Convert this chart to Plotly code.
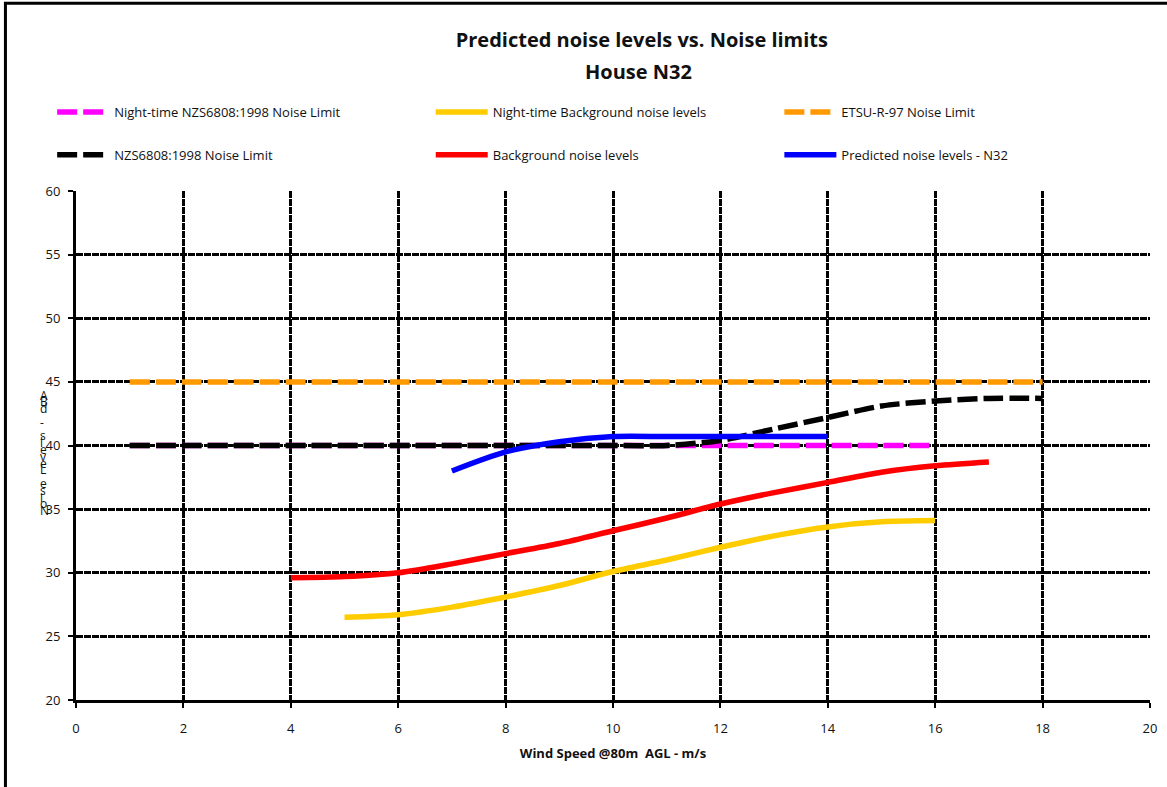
import plotly.graph_objects as go

# Wind speed (m/s) for each series
night_limit_x = [1, 2, 3, 4, 5, 6, 7, 8, 9, 10, 11, 12, 13, 14, 15, 16]
night_limit_y = [40, 40, 40, 40, 40, 40, 40, 40, 40, 40, 40, 40, 40, 40, 40, 40]

night_bg_x = [5, 6, 7, 8, 9, 10, 11, 12, 13, 14, 15, 16]
night_bg_y = [26.5, 26.7, 27.3, 28.1, 29.0, 30.1, 31.0, 32.0, 32.9, 33.6, 34.0, 34.1]

etsu_x = [1, 2, 3, 4, 5, 6, 7, 8, 9, 10, 11, 12, 13, 14, 15, 16, 17, 18]
etsu_y = [45, 45, 45, 45, 45, 45, 45, 45, 45, 45, 45, 45, 45, 45, 45, 45, 45, 45]

nzs_x = [1, 2, 3, 4, 5, 6, 7, 8, 9, 10, 11, 12, 13, 14, 15, 16, 17, 18]
nzs_y = [40, 40, 40, 40, 40, 40, 40, 40, 40, 40, 40, 40.4, 41.3, 42.2, 43.1, 43.5, 43.7, 43.7]

bg_x = [4, 5, 6, 7, 8, 9, 10, 11, 12, 13, 14, 15, 16, 17]
bg_y = [29.6, 29.7, 30.0, 30.7, 31.5, 32.3, 33.3, 34.3, 35.4, 36.3, 37.1, 37.9, 38.4, 38.7]

pred_x = [7, 8, 9, 10, 11, 12, 13, 14]
pred_y = [38.0, 39.5, 40.3, 40.7, 40.7, 40.7, 40.7, 40.7]

x_ticks = [0, 2, 4, 6, 8, 10, 12, 14, 16, 18, 20]
y_ticks = [20, 25, 30, 35, 40, 45, 50, 55, 60]

FONT = "Open Sans"
DASH = "20px,6px"

fig = go.Figure()

# drawing order (bottom to top), legend slot given separately
series = [
    (night_bg_x, night_bg_y, "Night-time Background noise levels", "#FFCC00", "solid", "legend2"),
    (bg_x, bg_y, "Background noise levels", "#FF0000", "solid", "legend5"),
    (etsu_x, etsu_y, "ETSU-R-97 Noise Limit", "#FF9900", DASH, "legend3"),
    (night_limit_x, night_limit_y, "Night-time NZS6808:1998 Noise Limit", "#FF00FF", DASH, "legend"),
    (nzs_x, nzs_y, "NZS6808:1998 Noise Limit", "#000000", DASH, "legend4"),
    (pred_x, pred_y, "Predicted noise levels - N32", "#0000FF", "solid", "legend6"),
]

for xs, ys, name, colour, dash, leg in series:
    fig.add_trace(go.Scatter(
        x=xs, y=ys, name=name, mode='lines', legend=leg, showlegend=True,
        line=dict(color=colour, width=5.5, dash=dash, shape='spline', smoothing=0.8),
    ))

# one legend per item so the 3x2 grid can be placed like the original
legend_pos = {
    'legend': (-0.0222, 1.155), 'legend2': (0.3303, 1.155), 'legend3': (0.6549, 1.155),
    'legend4': (-0.0222, 1.071), 'legend5': (0.3303, 1.071), 'legend6': (0.6549, 1.071),
}
for key, (lx, ly) in legend_pos.items():
    fig.layout[key] = dict(x=lx, y=ly, xanchor='left', yanchor='middle', orientation='h',
                           itemwidth=52, bgcolor='rgba(0,0,0,0)',
                           font=dict(family=FONT, size=13, color='#111111'))

# y axis title: stacked characters as in the original export
y_title = "Noise Levels - dBA"
for i, ch in enumerate(reversed(y_title)):
    if ch == ' ':
        continue
    ypx = 395 + i * 6.8
    fig.add_annotation(x=-0.0355, y=(700 - ypx) / 509, xref='paper', yref='paper',
                       text=ch, showarrow=False, font=dict(family=FONT, size=12, color='#111111'))

# second title line
fig.add_annotation(x=0.5236, y=1.2338, xref='paper', yref='paper', text="<b>House N32</b>",
                   showarrow=False, yanchor='middle',
                   font=dict(family=FONT, size=20, color='#111111'))

fig.update_layout(
    width=1167, height=787,
    margin=dict(l=76, r=10, t=191, b=87),
    showlegend=True,
    paper_bgcolor='white', plot_bgcolor='white',
    title=dict(text="<b>Predicted noise levels vs. Noise limits</b>",
               x=0.55, xanchor='center', y=0.949, yanchor='middle',
               font=dict(family=FONT, size=20, color='#111111')),
    font=dict(family=FONT, size=13, color='#111111'),
    shapes=[dict(type='rect', xref='paper', yref='paper', x0=-0.0657, x1=1.2, y0=-0.5, y1=1.369,
                 line=dict(color='black', width=3))],
)

fig.update_xaxes(range=[0, 20], tickvals=x_ticks, showgrid=True, gridcolor='black', gridwidth=2.5,
                 griddash='7px,1px', showline=True, linecolor='black', linewidth=3,
                 ticks='outside', ticklen=5, tickwidth=2, tickcolor='black', zeroline=False,
                 ticklabelstandoff=9,
                 title=dict(text="<b>Wind Speed @80m  AGL - m/s</b>", font=dict(size=13), standoff=14))
fig.update_yaxes(range=[20, 60], tickvals=y_ticks, showgrid=True, gridcolor='black', gridwidth=2.5,
                 griddash='7px,1px', showline=True, linecolor='black', linewidth=3,
                 ticks='outside', ticklen=5, tickwidth=2, tickcolor='black', zeroline=False,
                 ticklabelstandoff=5)

# drop the default page margin so the 1167x787 figure fills the window exactly
fig.write_html("out.html", config={'displayModeBar': False},
               post_script="document.body.style.margin='0';")
